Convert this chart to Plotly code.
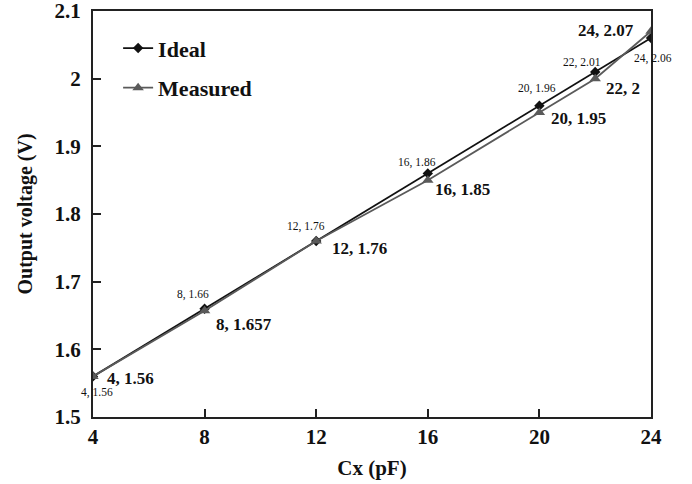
import plotly.graph_objects as go

cx = [4, 8, 12, 16, 20, 22, 24]
ideal = [1.56, 1.66, 1.76, 1.86, 1.96, 2.01, 2.06]
measured = [1.56, 1.657, 1.76, 1.85, 1.95, 2.00, 2.07]
ideal_labels = ["4, 1.56", "8, 1.66", "12, 1.76", "16, 1.86", "20, 1.96", "22, 2.01", "24, 2.06"]
measured_labels = ["4, 1.56", "8, 1.657", "12, 1.76", "16, 1.85", "20, 1.95", "22, 2", "24, 2.07"]
x_ticks = [4, 8, 12, 16, 20, 24]
y_ticks = [1.5, 1.6, 1.7, 1.8, 1.9, 2.0, 2.1]
y_tick_text = ["1.5", "1.6", "1.7", "1.8", "1.9", "2", "2.1"]

SERIF = "Liberation Serif, Times New Roman, serif"

fig = go.Figure()
fig.add_trace(go.Scatter(
    x=cx, y=ideal, mode="lines+markers", name="<b>Ideal</b>",
    line=dict(color="#111111", width=1.8),
    marker=dict(symbol="diamond", size=8, color="#111111"),
    legendgroup="a",
))
fig.add_trace(go.Scatter(
    x=cx, y=measured, mode="lines+markers", name="<b>Measured</b>",
    line=dict(color="#5a5a5a", width=1.8),
    marker=dict(symbol="triangle-up", size=10, color="#5a5a5a"),
    legendgroup="b",
))

# label offsets (pixels) for ideal (small) and measured (bold)
ideal_off = [(4, 16), (-12, -14), (-10, -15), (-11, -11), (-2, -17), (-13, -9), (2, 20)]
meas_off = [(12, 2, "left"), (9, 14, "left"), (14, 7, "left"), (5, 9, "left"),
            (10, 6, "left"), (9, 10, "left"), (-15, -1, "right")]

for x, y, t, (dx, dy) in zip(cx, ideal, ideal_labels, ideal_off):
    fig.add_annotation(x=x, y=y, text=t, showarrow=False, xshift=dx, yshift=-dy,
                       font=dict(family=SERIF, size=11.5, color="#111"))
for x, y, t, (dx, dy, al) in zip(cx, measured, measured_labels, meas_off):
    fig.add_annotation(x=x, y=y, text="<b>" + t + "</b>", showarrow=False,
                       xanchor=al, xshift=dx, yshift=-dy,
                       font=dict(family=SERIF, size=17, color="#111"))

fig.update_layout(
    width=692, height=484,
    margin=dict(l=93, r=41, t=11, b=67),
    paper_bgcolor="white", plot_bgcolor="white",
    font=dict(family=SERIF, color="#111"),
    showlegend=True,
    legend=dict(x=0.045, y=0.96, xanchor="left", yanchor="top",
                font=dict(family=SERIF, size=22, color="#111"),
                bgcolor="rgba(0,0,0,0)", tracegroupgap=8),
    xaxis=dict(range=[4, 24], tickvals=x_ticks, ticktext=["<b>%d</b>" % v for v in x_ticks],
               ticks="inside", ticklen=8, automargin=False, ticklabeloverflow="allow",
               tickwidth=1.5, tickcolor="#222", showline=True, linecolor="#222",
               linewidth=2, mirror=True, showgrid=False, zeroline=False,
               tickfont=dict(family=SERIF, size=21, color="#111"),
               title=dict(text="<b>Cx (pF)</b>", font=dict(family=SERIF, size=21, color="#111"),
                          standoff=12)),
    yaxis=dict(range=[1.5, 2.1], tickvals=y_ticks, ticktext=["<b>%s</b>" % s for s in y_tick_text],
               ticks="inside", ticklen=8, automargin=False, ticklabelstandoff=6,
               ticklabeloverflow="allow",
               tickwidth=1.5, tickcolor="#222", showline=True, linecolor="#222",
               linewidth=2, mirror=True, showgrid=False, zeroline=False,
               tickfont=dict(family=SERIF, size=21, color="#111"),
               title=dict(text="<b>Output voltage (V)</b>", font=dict(family=SERIF, size=20, color="#111"),
                          standoff=17)),
)

fig.write_html("out.html", config={"displayModeBar": False},
               post_script="document.body.style.margin='0';document.body.style.overflow='hidden';")
